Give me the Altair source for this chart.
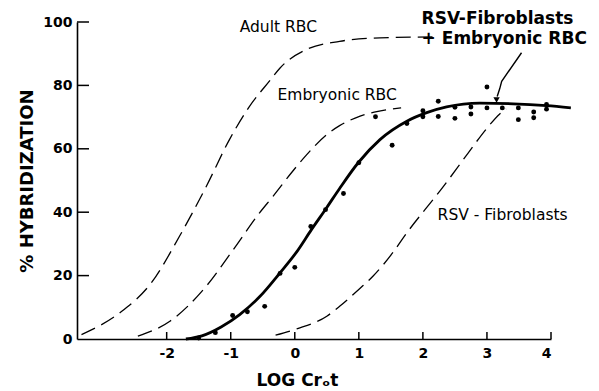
import altair as alt
import pandas as pd

# ---- data ----
adult_x = [-3.33, -2.73, -2.24, -1.80, -1.38, -1.02, -0.72, -0.39, -0.23, 0.18, 0.70, 1.33, 2.15]
adult_y = [1.4, 8.3, 17.7, 32.4, 48.2, 62.9, 73.0, 81.5, 85.5, 91.3, 93.9, 95.0, 95.3]

embryo_x = [-2.45, -1.95, -1.38, -0.96, -0.55, -0.34, -0.03, 0.18, 0.50, 0.70, 1.02, 1.30, 1.66]
embryo_y = [0.9, 5.6, 16.7, 28.2, 39.8, 45.0, 53.0, 58.0, 64.5, 67.3, 70.3, 71.8, 72.9]

rsv_x = [-0.30, 0.03, 0.50, 0.70, 1.02, 1.22, 1.54, 1.75, 2.16, 2.27, 2.70, 3.00, 3.20, 3.30]
rsv_y = [1.2, 3.2, 7.2, 10.3, 16.0, 19.8, 27.5, 33.5, 44.0, 46.8, 58.5, 66.5, 71.0, 72.6]

mix_x = [-1.70, -1.45, -1.15, -0.86, -0.55, -0.23, 0.03, 0.26, 0.50, 0.70, 0.99, 1.33, 1.75, 2.06, 2.37, 2.89, 3.41, 3.93, 4.31]
mix_y = [0.0, 1.0, 3.8, 7.7, 13.3, 20.9, 27.5, 34.5, 41.5, 47.5, 55.6, 62.9, 68.7, 71.4, 73.2, 74.4, 74.2, 73.6, 72.9]

pts_x = [-1.50, -1.24, -0.97, -0.74, -0.47, -0.23, 0.00, 0.25, 0.48, 0.76, 1.00, 1.26, 1.52, 1.75,
         2.00, 2.00, 2.24, 2.24, 2.50, 2.50, 2.75, 2.75, 3.00, 3.00, 3.24, 3.49, 3.49, 3.73, 3.73, 3.93, 3.93]
pts_y = [0.3, 2.0, 7.4, 8.6, 10.3, 20.7, 22.6, 35.5, 40.8, 45.9, 55.6, 70.1, 61.1, 68.0,
         72.0, 70.1, 75.0, 70.2, 73.1, 69.6, 73.2, 71.0, 79.5, 72.9, 72.9, 72.9, 69.2, 71.6, 69.8, 74.0, 72.5]

arrow_x = [3.54, 3.23, 3.20, 3.16]
arrow_y = [90.3, 81.3, 79.0, 76.5]
head_x = [3.15]
head_y = [75.4]

norm_text = ["Adult RBC", "Embryonic RBC", "RSV - Fibroblasts"]
norm_x = [-0.86, -0.27, 2.23]
norm_y = [98.3, 77.0, 39.1]

bold_text = ["RSV-Fibroblasts", "+ Embryonic RBC"]
bold_x = [1.98, 1.98]
bold_y = [100.8, 94.6]

x_ticks = [-2, -1, 0, 1, 2, 3, 4]
y_ticks = [0, 20, 40, 60, 80, 100]
y_inner_ticks = [20, 40, 60, 80, 100]

# ---- chart ----
W, H = 474, 317
FONT = "DejaVu Sans"
xs = alt.Scale(domain=[-3.4, 4], nice=False, zero=False)
ys = alt.Scale(domain=[0, 100], nice=False, zero=False)

xaxis = alt.Axis(values=x_ticks, ticks=False, tickSize=0, grid=False,
                 domainColor="black", domainWidth=1.6,
                 labelFont=FONT, labelFontSize=14, labelFontWeight="bold", labelColor="black",
                 labelPadding=7, labelExpr="'' + datum.value",
                 title="LOG  Crₒt", titleFont=FONT, titleFontSize=17, titleFontWeight="bold",
                 titleColor="black", titleX=220, titleY=41, titleAlign="center", titleBaseline="middle")
yaxis = alt.Axis(values=y_ticks, ticks=False, tickSize=0, grid=False,
                 domainColor="black", domainWidth=1.6,
                 labelFont=FONT, labelFontSize=14, labelFontWeight="bold", labelColor="black",
                 labelPadding=5,
                 title="% HYBRIDIZATION", titleFont=FONT, titleFontSize=18, titleFontWeight="bold",
                 titleColor="black", titleX=-50, titleY=H / 2, titleAngle=270,
                 titleAlign="center", titleBaseline="middle")

X = lambda: alt.X("x:Q", scale=xs, axis=xaxis)
Y = lambda: alt.Y("y:Q", scale=ys, axis=yaxis)


def dashed(xv, yv):
    return alt.Chart(pd.DataFrame({"x": xv, "y": yv})).mark_line(
        color="black", strokeWidth=1.3, strokeDash=[15, 7], interpolate="monotone"
    ).encode(x=X(), y=Y())


adult = dashed(adult_x, adult_y)
embryo = dashed(embryo_x, embryo_y)
rsv = dashed(rsv_x, rsv_y)

mix = alt.Chart(pd.DataFrame({"x": mix_x, "y": mix_y})).mark_line(
    color="black", strokeWidth=2.8, interpolate="monotone"
).encode(x=X(), y=Y())

pts = alt.Chart(pd.DataFrame({"x": pts_x, "y": pts_y})).mark_circle(
    color="black", size=24, opacity=1
).encode(x=X(), y=Y())

arrow = alt.Chart(pd.DataFrame({"x": arrow_x, "y": arrow_y, "o": list(range(len(arrow_x)))})).mark_line(
    color="black", strokeWidth=1.4
).encode(x=X(), y=Y(), order="o:Q")

head = alt.Chart(pd.DataFrame({"x": head_x, "y": head_y})).mark_point(
    shape="triangle-down", filled=True, color="black", size=40, opacity=1
).encode(x=X(), y=Y())

norm_lbl = alt.Chart(pd.DataFrame({"x": norm_x, "y": norm_y, "t": norm_text})).mark_text(
    font=FONT, fontSize=15.5, color="black", align="left", baseline="middle"
).encode(x=X(), y=Y(), text="t:N")

bold_lbl = alt.Chart(pd.DataFrame({"x": bold_x, "y": bold_y, "t": bold_text})).mark_text(
    font=FONT, fontSize=17, fontWeight="bold", color="black", align="left", baseline="middle"
).encode(x=X(), y=Y(), text="t:N")

xt = alt.Chart(pd.DataFrame({"x": x_ticks})).mark_rule(color="black", strokeWidth=1.5).encode(
    x=X(), y=alt.value(H), y2=alt.value(H - 7))
yt = alt.Chart(pd.DataFrame({"y": y_inner_ticks})).mark_rule(color="black", strokeWidth=1.5).encode(
    y=Y(), x=alt.value(0), x2=alt.value(12))

chart = alt.layer(xt, yt, adult, embryo, rsv, mix, pts, arrow, head, norm_lbl, bold_lbl).properties(
    width=W, height=H,
    padding={"left": 77, "top": 22, "right": 48, "bottom": 52},
    autosize=alt.AutoSizeParams(type="none"),
    background="white",
).configure_view(stroke=None)

chart.save("out.html", embed_options={"renderer": "svg", "actions": False})
